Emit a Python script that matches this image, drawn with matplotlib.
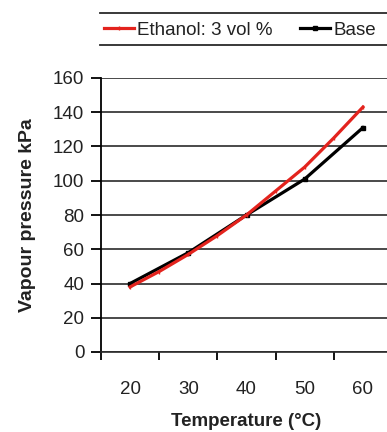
import matplotlib
matplotlib.use('Agg')
import matplotlib.pyplot as plt
from matplotlib.lines import Line2D
from matplotlib.ticker import MultipleLocator

plt.rcParams['font.family'] = ['Liberation Sans', 'DejaVu Sans']

# data
temp_ethanol = [20, 25, 30, 35, 40, 45, 50, 55, 60]
vp_ethanol = [38, 47, 57, 68, 80, 94, 108, 125, 143]
temp_base = [20, 30, 40, 50, 60]
vp_base = [40, 58, 80, 101, 131]

y_ticks = [0, 20, 40, 60, 80, 100, 120, 140, 160]
x_ticks = [20, 30, 40, 50, 60]

text_col = '#222222'

fig = plt.figure(figsize=(3.87, 4.32), dpi=100)
ax = fig.add_axes([101 / 387, 80 / 432, 291 / 387, 274 / 432])

ax.plot(temp_ethanol, vp_ethanol, color='#e3231d', lw=2.3, marker='|', ms=3,
        label='Ethanol: 3 vol %', zorder=4)
ax.plot(temp_base, vp_base, color='black', lw=2.3, marker='s', ms=3,
        label='Base', zorder=3)

ax.set_xlim(15, 65)
ax.set_ylim(0, 160)
ax.set_yticks(y_ticks)
ax.set_xticks(x_ticks)
ax.xaxis.set_minor_locator(MultipleLocator(10, offset=5))

ax.grid(axis='y', color='#2a2a2a', lw=1.2)
ax.set_axisbelow(True)
for s in ['top', 'right']:
    ax.spines[s].set_visible(False)
ax.spines['left'].set_linewidth(1.3)
ax.spines['bottom'].set_linewidth(1.2)
ax.spines['bottom'].set_color('#2a2a2a')

ax.tick_params(axis='x', which='major', length=0, pad=21, labelsize=13.5, labelcolor=text_col)
ax.tick_params(axis='x', which='minor', length=6, width=1.3, direction='out')
ax.tick_params(axis='y', length=7, width=1.3, direction='out', pad=5, labelsize=13.5,
               labelcolor=text_col)

ax.set_xlabel('Temperature (°C)', fontsize=13.5, fontweight='bold', color=text_col, labelpad=11)
ax.set_ylabel('Vapour pressure kPa', fontsize=14, fontweight='bold', color=text_col, labelpad=12)

# legend with top and bottom rules only
fig.legend(loc='center left', bbox_to_anchor=(104 / 387, 1 - 30 / 432), ncol=2,
           frameon=False, fontsize=13.5, handlelength=1.6, handletextpad=0.15,
           columnspacing=1.5, borderpad=0, borderaxespad=0, labelcolor=text_col)
for yy in [13, 45]:
    fig.add_artist(Line2D([100 / 387, 1.0], [1 - yy / 432] * 2, color='#2a2a2a', lw=1.3,
                          transform=fig.transFigure))

fig.savefig('out.png', dpi=100)
